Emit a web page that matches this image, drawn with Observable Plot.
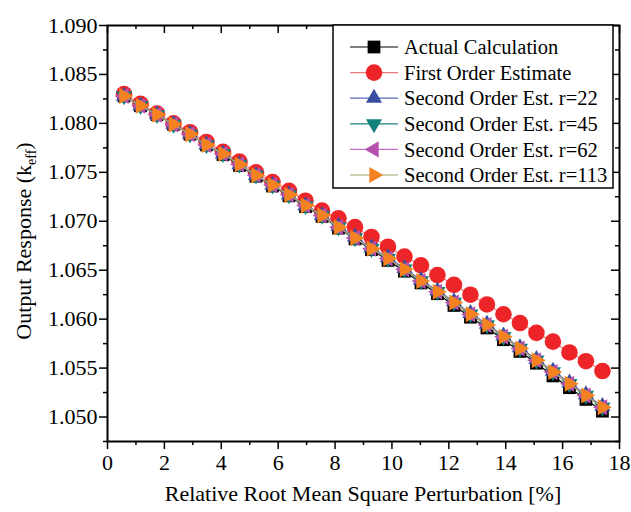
<!DOCTYPE html>
<html><head><meta charset="utf-8">
<script src="https://cdn.jsdelivr.net/npm/d3@7"></script>
<script src="https://cdn.jsdelivr.net/npm/@observablehq/plot@0.6"></script>
<style>
html,body{margin:0;padding:0;background:#fff;}
#chart{width:631px;height:512px;}
</style></head><body><div id="chart"></div>
<script>
// ---- data ----
const xValues = [0.58, 1.16, 1.74, 2.32, 2.90, 3.48, 4.06, 4.64, 5.22, 5.80,
  6.38, 6.96, 7.54, 8.12, 8.70, 9.28, 9.86, 10.44, 11.02, 11.60,
  12.18, 12.76, 13.34, 13.92, 14.50, 15.08, 15.66, 16.24, 16.82, 17.40];
const actualCalc = [1.0828, 1.0818, 1.0809, 1.0799, 1.0789, 1.0778, 1.0768, 1.0757, 1.0746, 1.0736,
  1.0726, 1.0715, 1.0705, 1.0693, 1.0682, 1.0671, 1.0660, 1.0649, 1.0637, 1.0626,
  1.0614, 1.0602, 1.0591, 1.0579, 1.0567, 1.0555, 1.0542, 1.0530, 1.0518, 1.0506];
const firstOrder = [1.0830, 1.0820, 1.0810, 1.0800, 1.0791, 1.0781, 1.0771, 1.0761, 1.0750, 1.0740,
  1.0731, 1.0721, 1.0711, 1.0703, 1.0694, 1.0684, 1.0674, 1.0664, 1.0655, 1.0645,
  1.0635, 1.0625, 1.0615, 1.0605, 1.0596, 1.0586, 1.0577, 1.0566, 1.0557, 1.0547];
const secondR22 = [1.0828, 1.0818, 1.0809, 1.0799, 1.0789, 1.0778, 1.0769, 1.0758, 1.0747, 1.0737,
  1.0727, 1.0716, 1.0706, 1.0695, 1.0684, 1.0673, 1.0663, 1.0652, 1.0640, 1.0629,
  1.0618, 1.0606, 1.0595, 1.0583, 1.0571, 1.0559, 1.0547, 1.0535, 1.0523, 1.0511];
const secondR45 = [1.0828, 1.0818, 1.0809, 1.0799, 1.0789, 1.0778, 1.0769, 1.0758, 1.0747, 1.0737,
  1.0727, 1.0716, 1.0706, 1.0694, 1.0683, 1.0672, 1.0662, 1.0651, 1.0639, 1.0628,
  1.0617, 1.0605, 1.0594, 1.0582, 1.0570, 1.0558, 1.0546, 1.0534, 1.0522, 1.0510];
const secondR62 = [1.0828, 1.0818, 1.0809, 1.0799, 1.0789, 1.0778, 1.0769, 1.0758, 1.0747, 1.0737,
  1.0727, 1.0716, 1.0706, 1.0694, 1.0683, 1.0672, 1.0662, 1.0651, 1.0639, 1.0628,
  1.0617, 1.0605, 1.0594, 1.0582, 1.0570, 1.0558, 1.0546, 1.0534, 1.0522, 1.0510];
const secondR113 = [1.0828, 1.0818, 1.0809, 1.0799, 1.0789, 1.0778, 1.0769, 1.0758, 1.0747, 1.0737,
  1.0727, 1.0716, 1.0706, 1.0694, 1.0683, 1.0672, 1.0662, 1.0651, 1.0639, 1.0628,
  1.0617, 1.0605, 1.0594, 1.0582, 1.0570, 1.0558, 1.0546, 1.0534, 1.0522, 1.0510];
const seriesNames = ["Actual Calculation", "First Order Estimate", "Second Order Est. r=22",
  "Second Order Est. r=45", "Second Order Est. r=62", "Second Order Est. r=113"];
const xMajor = [0, 2, 4, 6, 8, 10, 12, 14, 16, 18];
const xMinor = [1, 3, 5, 7, 9, 11, 13, 15, 17];
const yMajor = [1.050, 1.055, 1.060, 1.065, 1.070, 1.075, 1.080, 1.085, 1.090];
const yMinor = [1.0475, 1.0525, 1.0575, 1.0625, 1.0675, 1.0725, 1.0775, 1.0825, 1.0875];
const xLabel = "Relative Root Mean Square Perturbation [%]";

// ---- symbols ----
const s3 = Math.sqrt(3);
function tri(dir) {
  const tr = {up: ([a, b]) => [a, b], down: ([a, b]) => [a, -b], left: ([a, b]) => [b, a], right: ([a, b]) => [-b, a]}[dir];
  return {draw(context, size) {
    const y = -Math.sqrt(size / (s3 * 3));
    const pts = [[0, 2 * y], [-s3 * y, -y], [s3 * y, -y]].map(tr);
    context.moveTo(pts[0][0], pts[0][1]);
    context.lineTo(pts[1][0], pts[1][1]);
    context.lineTo(pts[2][0], pts[2][1]);
    context.closePath();
  }};
}

const values = [actualCalc, firstOrder, secondR22, secondR45, secondR62, secondR113];
const fills = ["#000000", "#ee2528", "#3b4fa1", "#12807c", "#b552ad", "#f58220"];
const strokes = ["#000000", "#f07a7a", "#5a6ab4", "#1a7f78", "#c472c0", "#a8a46a"];
const symbols = [d3.symbolSquare, d3.symbolCircle, tri("up"), tri("down"), tri("left"), tri("right")];
const radii = [7.2, 8.3, 6.0, 6.0, 6.0, 6.0];

const W = 631, H = 512, mL = 107, mR = 12, mT = 25, mB = 71;
const plotW = W - mL - mR, plotH = H - mT - mB;
const FONT = "'Liberation Serif', 'Times New Roman', serif";

const marks = [];
values.forEach((vals, k) => {
  const data = xValues.map((x, i) => ({x, y: vals[i]}));
  marks.push(Plot.line(data, {x: "x", y: "y", stroke: strokes[k], strokeWidth: 1.2}));
  marks.push(Plot.dot(data, {x: "x", y: "y", symbol: symbols[k], r: radii[k], fill: fills[k], stroke: "none"}));
});

const svg = Plot.plot({
  width: W, height: H,
  marginLeft: mL, marginRight: mR, marginTop: mT, marginBottom: mB,
  style: {fontFamily: FONT, fontSize: "22px", color: "black", background: "white"},
  x: {domain: [0, 18]},
  y: {domain: [1.0475, 1.090]},
  marks: [
    ...marks,
    Plot.axisY({ticks: yMajor, tickSize: 8, tickPadding: 2, strokeWidth: 1.5, tickFormat: d3.format(".3f"), label: null, fontSize: 22}),
    Plot.axisY({ticks: yMinor, tickSize: 4, strokeWidth: 1.5, tickFormat: () => "", label: null}),
    Plot.axisX({ticks: xMajor, tickSize: 8, tickPadding: 5, strokeWidth: 1.5, tickFormat: d3.format("d"), label: null, fontSize: 22}),
    Plot.axisX({ticks: xMinor, tickSize: 4, strokeWidth: 1.5, tickFormat: () => "", label: null}),
    Plot.tickX(xMajor, {x: d => d, insetBottom: plotH - 8, stroke: "black", strokeWidth: 1.5}),
    Plot.tickX(xMinor, {x: d => d, insetBottom: plotH - 4, stroke: "black", strokeWidth: 1.5}),
    Plot.tickY(yMajor, {y: d => d, insetLeft: plotW - 8, stroke: "black", strokeWidth: 1.5}),
    Plot.tickY(yMinor, {y: d => d, insetLeft: plotW - 4, stroke: "black", strokeWidth: 1.5}),
    Plot.frame({stroke: "black", strokeWidth: 2})
  ]
});

const g = d3.select(svg);
// axis titles
g.append("text").attr("x", mL + plotW / 2).attr("y", 501).attr("text-anchor", "middle")
  .attr("font-family", FONT).attr("font-size", 22).attr("fill", "black").text(xLabel);
const yt = g.append("text").attr("transform", "translate(31,241) rotate(-90)").attr("text-anchor", "middle")
  .attr("font-family", FONT).attr("font-size", 22).attr("fill", "black");
yt.append("tspan").text("Output Response (k");
yt.append("tspan").attr("font-size", 14).attr("dy", 5).text("eff");
yt.append("tspan").attr("dy", -5).text(")");

// legend
const lg = g.append("g");
lg.append("rect").attr("x", 333).attr("y", 25).attr("width", 280).attr("height", 163)
  .attr("fill", "white").attr("stroke", "black").attr("stroke-width", 1.5);
seriesNames.forEach((name, k) => {
  const cy = 47 + k * 25.6;
  lg.append("line").attr("x1", 350).attr("x2", 398).attr("y1", cy).attr("y2", cy)
    .attr("stroke", strokes[k]).attr("stroke-width", 1.2);
  lg.append("path").attr("transform", `translate(374,${cy})`)
    .attr("d", d3.symbol(symbols[k], Math.PI * radii[k] * radii[k])())
    .attr("fill", fills[k]);
  lg.append("text").attr("x", 404).attr("y", cy).attr("dy", "0.35em").attr("text-anchor", "start")
    .attr("font-family", FONT).attr("font-size", 20.5).attr("fill", "black").text(name);
});

document.getElementById("chart").appendChild(svg);
</script>
</body></html>
